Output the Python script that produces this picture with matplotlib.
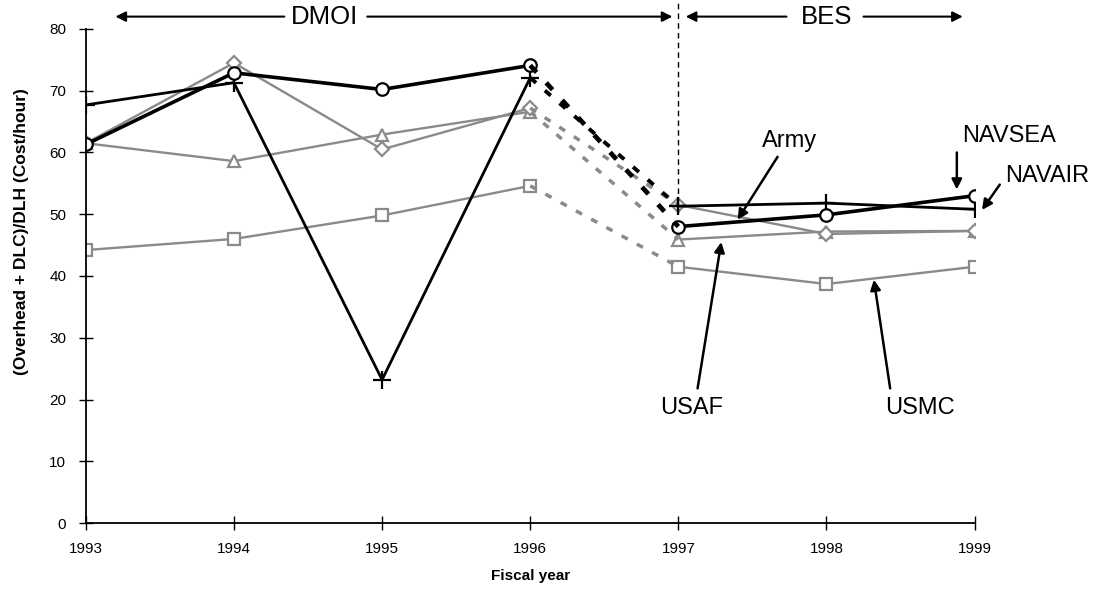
import matplotlib.pyplot as plt

plt.rcParams['font.family'] = ['Liberation Sans', 'DejaVu Sans']

years = [1993, 1994, 1995, 1996, 1997, 1998, 1999]
navair = [67.7, 71.3, 23.2, 72.1, 51.3, 51.8, 50.8]
navsea = [61.3, 72.9, 70.2, 74.1, 48.0, 49.9, 53.0]
army = [61.5, 74.5, 60.5, 67.2, 51.5, 46.8, 47.3]
usaf = [61.5, 58.6, 62.9, 66.6, 45.9, 47.2, 47.3]
usmc = [44.2, 46.0, 49.8, 54.6, 41.5, 38.7, 41.5]

gray = '#8a8a8a'
# values, marker, marker size, colour, line width
series = [
    (usmc, 's', 9, gray, 1.7),
    (usaf, '^', 9, gray, 1.7),
    (army, 'D', 7, gray, 1.7),
    (navair, '+', 13, 'black', 2.0),
    (navsea, 'o', 9, 'black', 2.6),
]

fig = plt.figure(figsize=(11, 5.91), dpi=100)
ax = fig.add_axes([0.078, 0.115, 0.808, 0.836])

for vals, mk, ms, col, lw in series:
    kw = dict(color=col, lw=lw, marker=mk, ms=ms, mfc='white', mec=col, mew=1.6)
    ax.plot(years[:4], vals[:4], **kw)
    ax.plot(years[4:], vals[4:], **kw)
    ax.plot(years[3:5], vals[3:5], color=col, lw=lw + 0.8, ls=(0, (2, 3)))

ax.set_xlim(1993, 1999)
ax.set_ylim(0, 80)
ax.set_xticks(years)
ax.set_yticks(range(0, 81, 10))
ax.tick_params(direction='inout', length=10, width=1, labelsize=11, pad=9)
for s in ['top', 'right']:
    ax.spines[s].set_visible(False)
ax.spines['left'].set_linewidth(1.3)
ax.spines['bottom'].set_linewidth(1.3)

ax.set_ylabel('(Overhead + DLC)/DLH (Cost/hour)', fontsize=12.5, fontweight='bold')
ax.set_xlabel('Fiscal year', fontsize=11, fontweight='bold')
ax.yaxis.set_label_coords(-0.064, 0.59)
ax.xaxis.set_label_coords(0.5, -0.093)

# period markers
ax.plot([1997, 1997], [50.2, 84.8], color='black', lw=1, ls=(0, (4, 3)), clip_on=False)
arr = dict(arrowstyle='-|>', color='black', lw=1.5, mutation_scale=15,
           shrinkA=0, shrinkB=0)
ty = 82.0
ax.annotate('', xy=(1993.2, ty), xytext=(1994.34, ty), arrowprops=arr, annotation_clip=False)
ax.annotate('', xy=(1996.96, ty), xytext=(1994.9, ty), arrowprops=arr, annotation_clip=False)
ax.text(1994.61, ty, 'DMOI', fontsize=18.5, ha='center', va='center', clip_on=False)
ax.annotate('', xy=(1997.05, ty), xytext=(1997.73, ty), arrowprops=arr, annotation_clip=False)
ax.annotate('', xy=(1998.92, ty), xytext=(1998.25, ty), arrowprops=arr, annotation_clip=False)
ax.text(1998.0, ty, 'BES', fontsize=18.5, ha='center', va='center', clip_on=False)

# series labels
lab = dict(arrowstyle='-|>', color='black', lw=1.8, mutation_scale=15,
           shrinkA=0, shrinkB=0)
fs = 17
ax.text(1997.75, 61.9, 'Army', fontsize=fs, ha='center', va='center')
ax.annotate('', xy=(1997.4, 49.1), xytext=(1997.67, 59.3), arrowprops=lab)
ax.text(1999.23, 62.6, 'NAVSEA', fontsize=fs, ha='center', va='center', clip_on=False)
ax.annotate('', xy=(1998.88, 54.0), xytext=(1998.88, 60.0), arrowprops=lab)
ax.text(1999.49, 56.2, 'NAVAIR', fontsize=fs, ha='center', va='center', clip_on=False)
ax.annotate('', xy=(1999.05, 50.7), xytext=(1999.17, 54.8), arrowprops=lab,
            annotation_clip=False)
ax.text(1997.09, 18.6, 'USAF', fontsize=fs, ha='center', va='center')
ax.annotate('', xy=(1997.29, 45.5), xytext=(1997.13, 21.8), arrowprops=lab)
ax.text(1998.63, 18.6, 'USMC', fontsize=fs, ha='center', va='center')
ax.annotate('', xy=(1998.32, 39.4), xytext=(1998.43, 21.8), arrowprops=lab)

fig.savefig('out.png', dpi=100)
